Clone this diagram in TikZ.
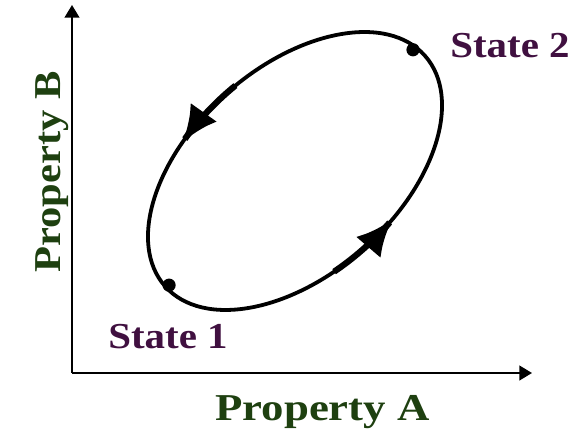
\documentclass[tikz,border=0pt]{standalone}
\usepackage{fontspec}
\setmainfont{Liberation Serif}
\usetikzlibrary{arrows.meta}
\definecolor{StatePurple}{HTML}{401040}
\definecolor{PropGreen}{HTML}{1E4010}
\newcommand{\widetext}[2][1.12]{\scalebox{#1}[1]{#2}}

\begin{document}
\begin{tikzpicture}[x=0.025cm, y=0.025cm,
  axis/.style={line width=1.4pt, -{Triangle[length=9pt, width=10.5pt]}},
  statedot/.style={circle, fill=black, inner sep=0pt, minimum size=0.33cm},
  statelbl/.style={inner sep=0pt, anchor=base west, text=StatePurple, font=\fontsize{26}{30}\selectfont\bfseries},
  proplbl/.style={inner sep=0pt, anchor=base west, text=PropGreen, font=\fontsize{27}{32}\selectfont\bfseries}]
\useasboundingbox (0,0) rectangle (579,435);

% Draw axes
\coordinate (O) at (72,62);
\coordinate (xend) at (532,62);
\coordinate (yend) at (72,430);
\draw[axis] (O) -- (xend);
\draw[axis] (O) -- (yend);

% Axis labels
\node[proplbl] (propA) at (215,15) {\widetext[1.18]{Property A}};
\node[proplbl, rotate=90] (propB) at (60,162) {\widetext{Property B}};

% Cycle between the two states (tilted ellipse)
\begin{scope}[shift={(295,264)}, rotate=41.6]
  \draw[line width=2.7pt] (0,0) ellipse [x radius=173.7, y radius=103.7];
  \node[statedot] (s1) at ({170*cos(181)},{101*sin(181)}) {};
  \node[statedot] (s2) at ({170*cos(7)},{101*sin(7)}) {};
  % direction marks
  \foreach \ta/\tb in {86/112, 257.5/283.5}
    \draw[line width=4.4pt, -{Latex[length=26pt, width=23pt]}]
      plot[domain=\ta:\tb, samples=20] ({173.7*cos(\x)},{103.7*sin(\x)});
\end{scope}

% State labels
\node[statelbl] (st1) at (108,87) {\widetext{State 1}};
\node[statelbl] (st2) at (450,377) {\widetext{State 2}};
\end{tikzpicture}
\end{document}
